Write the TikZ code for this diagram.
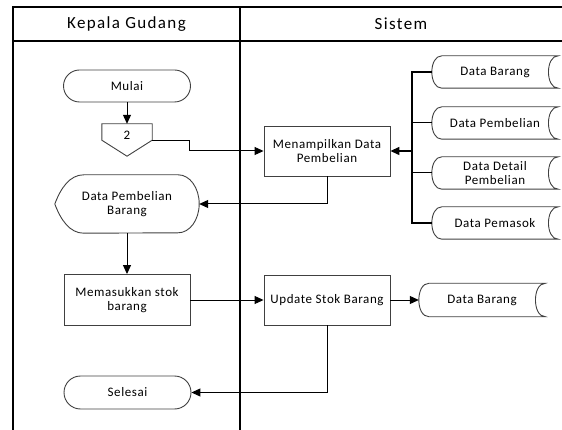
\documentclass[tikz,border=0pt]{standalone}
\usepackage{fontspec}
\setmainfont{Carlito}
\newfontfamily\bodyfont{Carlito}[LetterSpace=4.5]
\newfontfamily\headfont{Carlito}[LetterSpace=8]
\usetikzlibrary{shapes.misc,arrows.meta,calc}

% outline of a stored-data symbol drawn around a named node
\newcommand\storedoutline[1]{%
  \draw[outline] ($(#1.north west)+(10,0)$) -- (#1.north east)
    .. controls ($(#1.north east)+(-13,0)$) and ($(#1.south east)+(-13,0)$) .. (#1.south east)
    -- ($(#1.south west)+(10,0)$)
    .. controls ($(#1.south west)+(-3.3,0)$) and ($(#1.north west)+(-3.3,0)$) .. ($(#1.north west)+(10,0)$) -- cycle;}

\begin{document}
\begin{tikzpicture}[x=1pt,y=-1pt,
  outline/.style={draw=black!75,line width=0.9pt},
  lane/.style={draw=black,line width=1.3pt},
  conn/.style={draw=black,line width=1pt},
  arr/.style={conn,-{Triangle[length=9pt,width=8pt]}},
  txt/.style={font=\bodyfont\fontsize{13}{14}\selectfont,align=center,text=black},
  terminal/.style={txt,rounded rectangle,outline,minimum width=127pt,minimum height=32pt,inner sep=0pt},
  process/.style={txt,rectangle,outline,minimum width=126pt,minimum height=50pt,inner sep=0pt},
  plain/.style={txt,inner sep=0pt},
  stored/.style={txt,inner sep=0pt,minimum width=126pt,minimum height=32pt},
  lanehead/.style={font=\headfont\fontsize{17}{19}\selectfont}
]
\useasboundingbox (0,0) rectangle (562,430);

% swimlane frame
\draw[lane] (13,430) -- (13,7) -- (562,7);
\draw[lane] (13,41) -- (562,41);
\draw[lane] (240,7) -- (240,430);
\node[lanehead] (lane1) at (126.5,24) {Kepala Gudang};
\node[lanehead] (lane2) at (401,24) {Sistem};

% Kepala Gudang lane
\node[terminal] (mulai) at (127,86) {Mulai};
\node[plain,minimum width=50pt,minimum height=16pt] (off) at (127,132) {};
\node[plain] (offlabel) at (127,135) {2};
\draw[outline] (off.north west) -- (off.north east) -- (off.south east)
  -- ($(off.south)+(0,16)$) -- (off.south west) -- cycle;

\node[plain,minimum width=144pt,minimum height=58pt] (dpb) at (127,204) {Data Pembelian\\Barang};
\draw[outline] (dpb.west)
  .. controls ($(dpb.west)+(6,-16)$) and ($(dpb.north west)+(15,0)$) .. ($(dpb.north west)+(29,0)$)
  -- ($(dpb.north east)+(-21,0)$)
  arc[start angle=90,end angle=-90,x radius=21pt,y radius=29pt]
  -- ($(dpb.south west)+(29,0)$)
  .. controls ($(dpb.south west)+(15,0)$) and ($(dpb.west)+(6,16)$) .. (dpb.west) -- cycle;

\node[process,minimum height=51pt] (masuk) at (127,300) {Memasukkan stok\\barang};
\node[terminal,minimum height=33pt] (selesai) at (127.5,392.5) {Selesai};

% Sistem lane
\node[process] (tampil) at (327,151) {Menampilkan Data\\Pembelian};
\node[process] (update) at (327,300) {Update Stok Barang};

\node[stored] (db1) at (495,72) {Data Barang};
\node[stored] (db2) at (495,123) {Data Pembelian};
\node[stored] (db3) at (495,173) {Data Detail\\Pembelian};
\node[stored] (db4) at (495,223) {Data Pemasok};
\node[stored,minimum height=33pt] (db5) at (482,300) {Data Barang};
\foreach \n in {db1,db2,db3,db4,db5} {\storedoutline{\n}}

% connectors
\coordinate (bus) at (412,151);
\draw[arr] (mulai.south) -- (off.north);
\draw[arr] (off.south east) -- ++(37,0) |- (tampil.west);
\draw[conn,line width=1.4pt] (db1.west) -| (bus) |- (db4.west);
\draw[conn] (db2.west) -- (db2.west -| bus);
\draw[conn] (db3.west) -- (db3.west -| bus);
\draw[arr,line width=1.4pt] (bus) -- (tampil.east);
\draw[arr] (tampil.south) |- (dpb.east);
\draw[arr] (dpb.south) -- (masuk.north);
\draw[arr] (masuk.east) -- (update.west);
\draw[arr] (update.east) -- (db5.west);
\draw[arr] (update.south) |- (selesai.east);
\end{tikzpicture}
\end{document}
